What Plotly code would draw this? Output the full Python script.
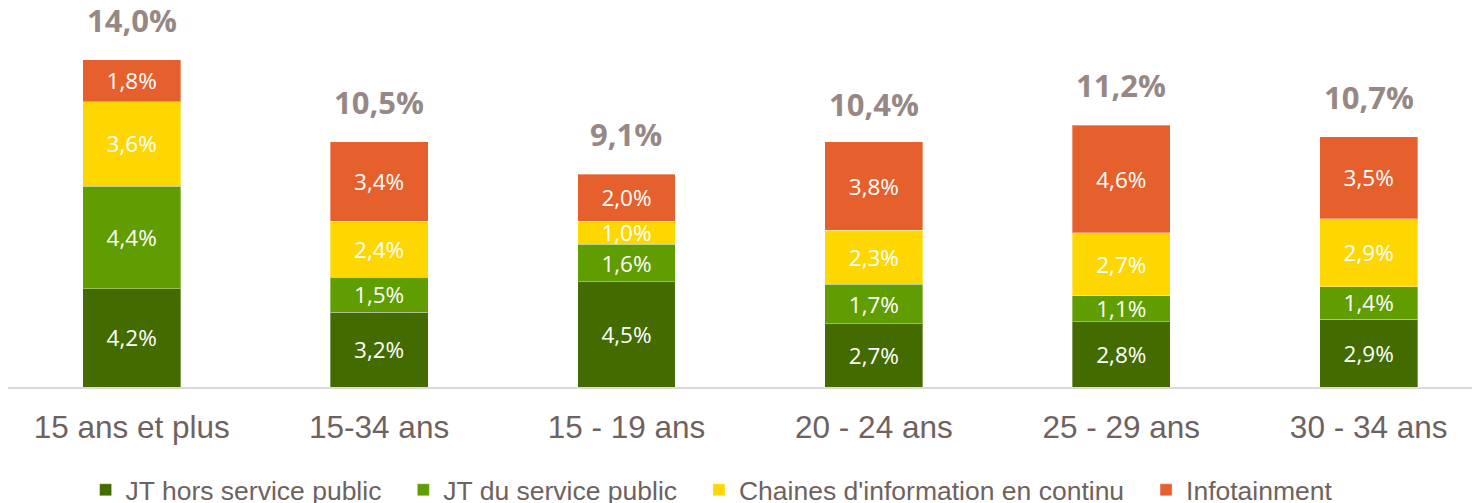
import plotly.graph_objects as go

categories = ["15 ans et plus", "15-34 ans", "15 - 19 ans", "20 - 24 ans", "25 - 29 ans", "30 - 34 ans"]
jt_hors_sp = [4.2, 3.2, 4.5, 2.7, 2.8, 2.9]
jt_sp = [4.4, 1.5, 1.6, 1.7, 1.1, 1.4]
chaines_info = [3.6, 2.4, 1.0, 2.3, 2.7, 2.9]
infotainment = [1.8, 3.4, 2.0, 3.8, 4.6, 3.5]
totals = [14.0, 10.5, 9.1, 10.4, 11.2, 10.7]

series = [
    ("JT hors service public", jt_hors_sp, "#436B00"),
    ("JT du service public", jt_sp, "#5F9D00"),
    ("Chaines d'information en continu", chaines_info, "#FFD700"),
    ("Infotainment", infotainment, "#E5602C"),
]

def fmt(v):
    return f"{v:.1f}%".replace(".", ",")

PAD = "\u00a0\u00a0\u200a"
fig = go.Figure()
for i, (name, vals, color) in enumerate(series):
    legend_name = name + (PAD if i < len(series) - 1 else "")
    fig.add_trace(go.Bar(
        name=legend_name, x=categories, y=vals,
        marker=dict(color=color, line=dict(color="rgba(255,255,255,0.35)", width=1)),
        text=[fmt(v) for v in vals], textposition="inside", insidetextanchor="middle",
        textangle=0,
        textfont=dict(family="Open Sans, Noto Sans, sans-serif", size=22.5, color="white"),
        width=0.396, hoverinfo="skip",
    ))

for c, t in zip(categories, totals):
    fig.add_annotation(x=c, y=t, text=f"<b>{fmt(t)}</b>", showarrow=False,
                       yanchor="bottom", yshift=17,
                       font=dict(family="Open Sans, Noto Sans, sans-serif", size=31, color="#978885"))

fig.update_layout(
    width=1472, height=495, barmode="stack",
    margin=dict(l=0, r=0, t=0, b=116, autoexpand=False),
    plot_bgcolor="white", paper_bgcolor="white",
    uniformtext=dict(minsize=22.5, mode="show"),
    xaxis=dict(range=[-0.5, 5.45], showline=True, linecolor="#DDD9D9", linewidth=1.5,
               ticks="", ticklabelstandoff=11, automargin=False,
               tickfont=dict(family="Liberation Sans, Arial, sans-serif", size=31.5, color="#6E6260")),
    yaxis=dict(range=[0, 16.22], visible=False),
    showlegend=True,
    legend=dict(orientation="h", x=0.478, xanchor="center", y=-0.272, yanchor="middle",
                traceorder="normal",
                font=dict(family="Liberation Sans, Arial, sans-serif", size=26.5, color="#6E6260")),
)

fig.write_html("out.html")
